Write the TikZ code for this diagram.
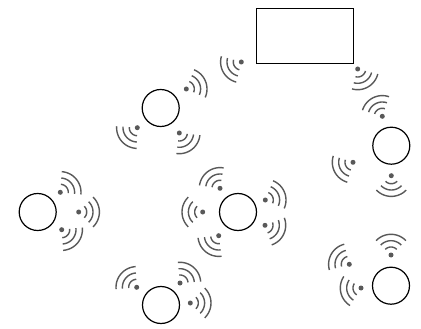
\documentclass[tikz,border=0pt]{standalone}
\tikzset{
  x=1pt,y=-1pt,
  station/.style={draw=black,line width=1.2pt,circle,minimum size=37pt,inner sep=0pt,outer sep=0pt},
  base/.style={draw=black,line width=1.2pt,rectangle,minimum width=96.6pt,minimum height=54.6pt,inner sep=0pt,outer sep=0pt},
  wave/.style={draw=black!65,line width=1.4pt},
  wavedot/.style={fill=black!65,circle,minimum size=5pt,inner sep=0pt,outer sep=0pt},
  pics/signal/.style={code={
    \node[wavedot] (-dot) at (0,0) {};
    \foreach \r in {8,14.3,20.7}{
      \draw[wave] plot[domain=#1-46:#1+46,samples=17,smooth] ({\r*cos(\x)},{-\r*sin(\x)});
    }
  }}
}
\begin{document}
\begin{tikzpicture}
\useasboundingbox (0,0) rectangle (421,329);
\node[base] (ap) at (305,36) {};
\node[station] (s1) at (160.7,108) {};
\node[station] (s2) at (391.3,145.7) {};
\node[station] (s3) at (37.7,212) {};
\node[station] (s4) at (238,212) {};
\node[station] (s5) at (161,305) {};
\node[station] (s6) at (391,285.7) {};
\foreach \n/\px/\py/\a in {
  a/186.3/89/22, b/241.3/62/210, c/137.3/127.7/222, d/179.3/133/-52,
  e/357.7/69/-60, f/382.3/116.3/117, g/353/162.3/208, h/391.3/175.7/270,
  i/60.3/192.3/40, j/78.7/212/0, k/61.7/229.7/-40,
  l/220/188.3/126, m/202.7/212/180, n/218.7/235.7/232, o/265.3/200/22, p/265/225.3/-25,
  q/136.7/287.3/139, r/180/283/50, s/190.3/303/0,
  t/391/255/90, u/349.3/264.3/150, v/361/288/192}{
  \pic (w\n) at (\px,\py) {signal=\a};
}
\end{tikzpicture}
\end{document}
